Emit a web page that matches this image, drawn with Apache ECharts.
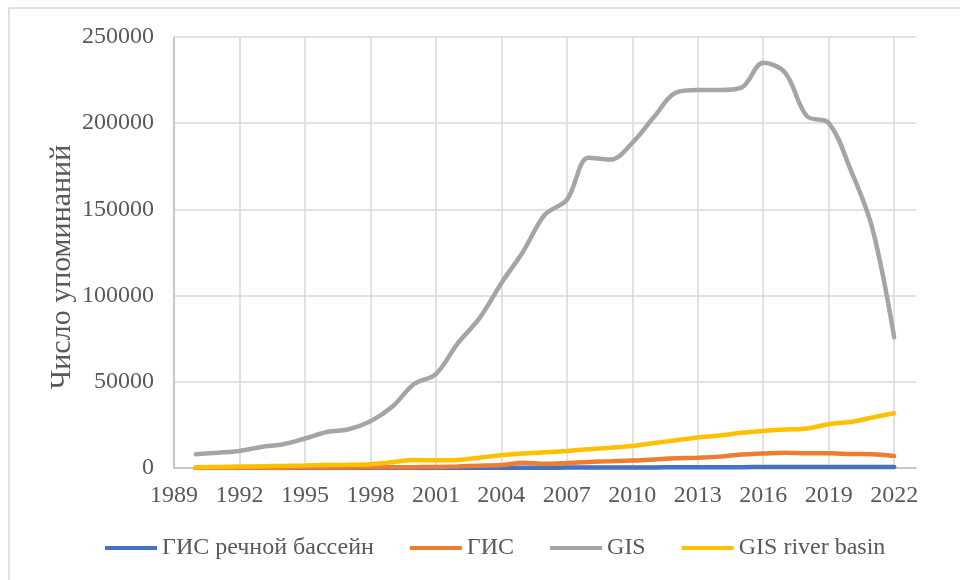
<!DOCTYPE html>
<html>
<head>
<meta charset="utf-8">
<script src="https://cdn.jsdelivr.net/npm/echarts@6/dist/echarts.min.js"></script>
<style>html,body{margin:0;padding:0;background:#fff}#c{width:960px;height:580px}</style>
</head>
<body>
<div id="c"></div>
<script>
const years = [1990,1991,1992,1993,1994,1995,1996,1997,1998,1999,2000,2001,2002,2003,2004,2005,2006,2007,2008,2009,2010,2011,2012,2013,2014,2015,2016,2017,2018,2019,2020,2021,2022];
const gisRiverBasinRu = [0,0,0,10,10,20,20,30,30,40,50,60,80,100,130,160,200,230,260,300,330,360,400,430,470,500,550,580,600,600,620,600,550];
const gisRu = [100,100,150,200,200,250,300,350,400,450,500,600,900,1300,1700,3100,2500,2900,3500,3900,4300,5000,5600,6000,6600,7800,8400,8900,8500,8500,8100,8000,7000];
const gisEn = [8000,8900,9900,12200,13800,17100,20900,22500,27100,35500,48700,54500,72300,86900,107200,125600,147000,155500,179900,178900,188600,203700,217700,219200,219200,220600,235100,229300,204100,200200,173100,139000,75800];
const gisRiverBasinEn = [400,600,800,1000,1200,1400,1700,1900,2200,3400,4600,4500,4700,6000,7400,8400,9100,9900,10900,11800,12800,14500,16100,17700,18800,20400,21500,22300,22900,25400,26700,29300,31800];
const seriesNames = ['ГИС речной бассейн','ГИС','GIS','GIS river basin'];
const seriesColors = ['#4472C4','#ED7D31','#A5A5A5','#FFC000'];
const xMin = 1989, xMax = 2023, xTickMax = 2022, xStep = 3;
const yMin = 0, yMax = 250000, yStep = 50000;
const yTitle = 'Число упоминаний';

const font = '"Liberation Serif","Times New Roman",serif';
const gridLeft = 174, gridTop = 37, gridWidth = 742, gridHeight = 431;
const pair = arr => years.map((y, i) => [y, arr[i]]);
const datasets = [gisRiverBasinRu, gisRu, gisEn, gisRiverBasinEn];

const chart = echarts.init(document.getElementById('c'), null, {renderer: 'canvas'});
chart.setOption({
  animation: false,
  backgroundColor: '#fff',
  graphic: [
    {type: 'rect', shape: {x: 9, y: 8, width: 1000, height: 1000}, style: {fill: 'none', stroke: '#d9d9d9', lineWidth: 1.5}, z: -10},
    {type: 'text', x: 62, y: 267, rotation: Math.PI / 2,
     style: {text: yTitle, fill: '#595959', font: '30px ' + font, align: 'center', verticalAlign: 'middle'}}
  ],
  grid: [
    {left: gridLeft, top: gridTop, width: gridWidth, height: gridHeight},
    {left: gridLeft, top: gridTop, width: gridWidth * (xTickMax - xMin) / (xMax - xMin), height: gridHeight}
  ],
  xAxis: [
    {type: 'value', gridIndex: 0, min: xMin, max: xMax, interval: xStep,
     axisLine: {show: true, lineStyle: {color: '#bfbfbf', width: 1.5}}, axisTick: {show: false},
     axisLabel: {show: false}, splitLine: {show: false}},
    {type: 'value', gridIndex: 1, min: xMin, max: xTickMax, interval: xStep,
     axisLine: {show: false}, axisTick: {show: false},
     axisLabel: {show: true, color: '#595959', fontFamily: font, fontSize: 24, margin: 16, formatter: v => String(v)},
     splitLine: {show: true, lineStyle: {color: '#d9d9d9', width: 1.5}}}
  ],
  yAxis: [
    {type: 'value', gridIndex: 0, min: yMin, max: yMax, interval: yStep,
     axisLine: {show: true, lineStyle: {color: '#bfbfbf', width: 1.5}}, axisTick: {show: false},
     axisLabel: {color: '#595959', fontFamily: font, fontSize: 24, margin: 20, formatter: v => String(v)},
     splitLine: {show: true, lineStyle: {color: '#d9d9d9', width: 1.5}}},
    {type: 'value', gridIndex: 1, min: yMin, max: yMax, interval: yStep, show: false}
  ],
  legend: {
    bottom: 15, left: 100, icon: 'rect', itemWidth: 52, itemHeight: 4, itemGap: 36,
    textStyle: {color: '#595959', fontFamily: font, fontSize: 24},
    data: seriesNames
  },
  series: datasets.map((arr, i) => ({
    name: seriesNames[i], type: 'line', xAxisIndex: 0, yAxisIndex: 0,
    data: pair(arr), smooth: 0.35, symbol: 'none',
    lineStyle: {color: seriesColors[i], width: 4.5, cap: 'round'},
    itemStyle: {color: seriesColors[i]}
  }))
});
</script>
</body>
</html>
